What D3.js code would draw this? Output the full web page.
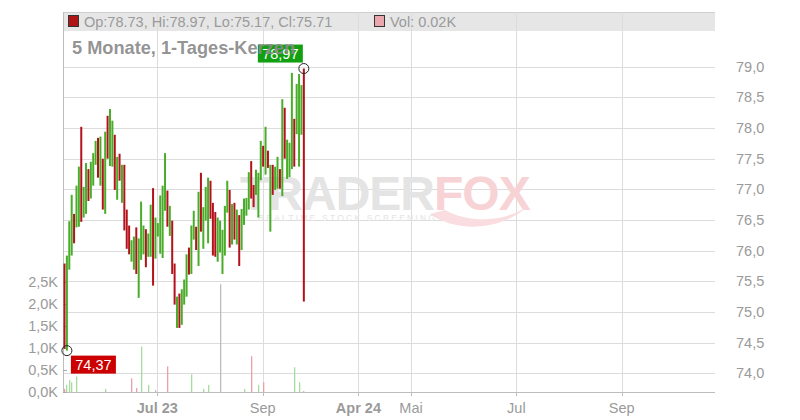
<!DOCTYPE html>
<html><head><meta charset="utf-8">
<script src="https://cdn.jsdelivr.net/npm/d3@7"></script>
<style>body{margin:0;background:#fff;} svg{display:block;font-family:"Liberation Sans",Arial,sans-serif;}</style>
</head><body><svg id="c" width="800" height="420"></svg>
<script>
// ---- data ----
const highs = [75.79,75.92,76.48,76.91,76.60,77.06,77.37,78.02,77.04,77.43,77.33,77.45,77.59,77.79,77.84,77.86,77.50,77.94,78.20,78.31,
  78.12,77.89,77.53,77.58,77.40,77.40,76.67,76.41,76.17,76.23,76.38,76.20,76.80,76.41,76.35,76.28,76.75,77.02,76.54,76.45,
  76.90,77.06,77.59,76.98,76.73,76.49,75.79,75.25,75.30,75.37,75.53,75.94,76.05,76.41,76.65,76.39,76.96,77.27,76.71,77.04,
  77.19,77.14,76.78,76.63,76.54,76.49,76.34,76.73,77.14,76.99,76.76,76.78,76.67,76.58,76.68,76.85,76.86,77.28,77.46,77.07,
  77.32,77.27,77.79,77.71,78.02,77.63,77.40,77.40,77.37,77.53,77.33,78.47,78.33,77.81,77.76,78.90,78.15,78.72,78.88,78.70,78.97];
const lows = [74.40,74.37,75.69,75.92,76.12,76.38,76.39,76.47,76.54,76.60,76.81,76.85,77.06,77.40,77.19,77.06,76.67,76.60,77.50,77.38,
  77.37,76.99,76.83,77.14,76.78,76.33,76.03,75.94,75.82,75.69,75.62,75.23,75.85,75.94,75.73,75.90,75.90,75.43,75.87,76.23,
  75.95,75.88,76.65,76.39,76.24,75.62,75.12,74.74,74.74,74.79,75.12,75.25,75.61,75.62,76.18,76.01,75.75,76.31,76.03,76.49,
  76.12,76.52,75.92,75.90,75.82,75.97,75.62,75.92,76.62,76.05,76.10,76.18,76.10,75.75,76.01,76.42,76.57,76.67,76.85,76.71,
  76.91,76.54,77.15,77.37,77.24,77.35,76.31,76.91,76.99,77.01,77.01,76.89,77.50,77.17,77.20,77.33,77.37,77.90,77.37,77.89,75.17];
const dirs = ["duuuduuduu","duuudududu","udududdduu","duuuduuduu","uuududdudu",
              "uuduududuu","uddduuuuud","ududuuuudd","uuudududuu","duduuuduuu","d"].join("");
const volumes = [[0,0.07,'d'],[1,0.16,'u'],[2,0.27,'u'],[3,0.22,'u'],[5,0.35,'u'],[17,0.07,'u'],[28,0.31,'d'],[30,0.09,'d'],
  [32,1.03,'u'],[35,0.16,'u'],[38,0.04,'n'],[43,0.58,'d'],[53,0.40,'u'],[58,0.07,'u'],[60,0.16,'u'],[65,2.44,'n'],
  [75,0.07,'u'],[78,0.81,'d'],[81,0.16,'u'],[83,0.22,'d'],[96,0.56,'u'],[98,0.22,'u'],[100,0.02,'d']];
const priceTicks = [74.0,74.5,75.0,75.5,76.0,76.5,77.0,77.5,78.0,78.5,79.0];
const volTicks = [0,0.5,1.0,1.5,2.0,2.5];
const xTickIdx = [39,83,123,145,189,233];
const xTickLabels = ["Jul 23","Sep","Apr 24","Mai","Jul","Sep"];
const xTickBold = [true,false,true,false,false,false];
const headerText = "Op:78.73, Hi:78.97, Lo:75.17, Cl:75.71";
const volText = "Vol: 0.02K";
const title = "5 Monate, 1-Tages-Kerzen";
const hiLabel = {idx:100, value:78.97, text:"78,97"};
const loLabel = {idx:1, value:74.37, text:"74,37"};

// ---- layout ----
const L = 63, R = 715, T = 12, B = 392;
const svg = d3.select("#c");
const x = d3.scaleLinear().domain([-0.42, 272]).range([L, R]);
const y = d3.scaleLinear().domain([74, 79]).range([373.3, 66.7]);
const yv = d3.scaleLinear().domain([0, 2.5]).range([B, 281.6]);
const fmt1 = v => d3.format(".1f")(v).replace(".", ",");

const gridC = "#dcdcdc", axisC = "#bdbdbd", textC = "#9a9a9a";
const upC = "#4aad2a", dnC = "#b4121a";
const vUp = "#a5dca0", vDn = "#e8a0aa", vN = "#bcbcbc";

// header bar
svg.append("rect").attr("x", L).attr("y", T).attr("width", R - L).attr("height", 19)
  .attr("fill", "#e6e6e6");
svg.append("line").attr("x1", L).attr("x2", R).attr("y1", T + 0.5).attr("y2", T + 0.5).attr("stroke", "#cfcfcf");

// horizontal price gridlines
svg.append("g").selectAll("line").data(priceTicks).join("line")
  .attr("x1", L).attr("x2", R).attr("y1", d => Math.round(y(d)) + 0.5).attr("y2", d => Math.round(y(d)) + 0.5)
  .attr("stroke", gridC);
// vertical gridlines
svg.append("g").selectAll("line").data(xTickIdx).join("line")
  .attr("x1", d => Math.round(x(d)) + 0.5).attr("x2", d => Math.round(x(d)) + 0.5)
  .attr("y1", T).attr("y2", B).attr("stroke", gridC);

// watermark
const wm = svg.append("g");
const wt = wm.append("text").attr("x", 240).attr("y", 210).attr("font-size", 48).attr("font-weight", "bold")
  .attr("letter-spacing", -1);
wt.append("tspan").attr("fill", "#e4e4e4").text("TRADER");
wt.append("tspan").attr("fill", "#f7d3d6").text("FOX");
wm.append("path").attr("d", "M430,214 C455,232 500,232 528,206 C505,222 470,224 445,210 Z").attr("fill", "#f9dde0");
wm.append("text").attr("x", 258).attr("y", 221).attr("font-size", 8.5).attr("letter-spacing", 2.2)
  .attr("fill", "#e4e4e4").text("REALTIME STOCK SCREENING");

// axes lines
svg.append("line").attr("x1", L + 0.5).attr("x2", L + 0.5).attr("y1", T).attr("y2", B).attr("stroke", axisC);
svg.append("line").attr("x1", L).attr("x2", R).attr("y1", B + 0.5).attr("y2", B + 0.5).attr("stroke", axisC);

// volume ticks (left)
svg.append("g").selectAll("line").data(volTicks).join("line")
  .attr("x1", L).attr("x2", L + 4).attr("y1", d => Math.round(yv(d)) + 0.5).attr("y2", d => Math.round(yv(d)) + 0.5)
  .attr("stroke", "#aaa");
svg.append("g").selectAll("text").data(volTicks).join("text")
  .attr("x", 58).attr("y", d => yv(d) + 5).attr("text-anchor", "end")
  .attr("font-size", 14.5).attr("fill", textC).text(d => fmt1(d) + "K");

// price labels (right)
svg.append("g").selectAll("text").data(priceTicks).join("text")
  .attr("x", 736).attr("y", d => y(d) + 5).attr("font-size", 14.5).attr("fill", textC).text(d => fmt1(d));

// x ticks & labels
svg.append("g").selectAll("line").data(xTickIdx).join("line")
  .attr("x1", d => Math.round(x(d)) + 0.5).attr("x2", d => Math.round(x(d)) + 0.5)
  .attr("y1", B).attr("y2", B + 4).attr("stroke", axisC);
svg.append("g").selectAll("text").data(xTickIdx).join("text")
  .attr("x", d => x(d)).attr("y", 413).attr("text-anchor", "middle")
  .attr("font-size", 14.5).attr("font-weight", (d, i) => xTickBold[i] ? "bold" : "normal")
  .attr("fill", textC).text((d, i) => xTickLabels[i]);

// volume bars
svg.append("g").selectAll("rect").data(volumes).join("rect")
  .attr("x", d => Math.round(x(d[0]))).attr("width", 1.3)
  .attr("y", d => yv(d[1])).attr("height", d => B - yv(d[1]))
  .attr("fill", d => d[2] === 'u' ? vUp : d[2] === 'd' ? vDn : vN);

// candles
svg.append("g").selectAll("rect").data(highs).join("rect")
  .attr("x", (d, i) => x(i) - 0.5).attr("width", 2)
  .attr("y", d => y(d)).attr("height", (d, i) => y(lows[i]) - y(d))
  .attr("fill", (d, i) => dirs[i] === 'u' ? upC : dnC);

// header content
svg.append("rect").attr("x", 68.5).attr("y", 15.5).attr("width", 10).attr("height", 11).attr("fill", "#b01515").attr("stroke", "#333");
svg.append("text").attr("x", 84).attr("y", 27).attr("font-size", 14.5).attr("fill", textC).text(headerText);
svg.append("rect").attr("x", 374.5).attr("y", 15.5).attr("width", 10).attr("height", 11).attr("fill", "#eaa7ae").attr("stroke", "#333");
svg.append("text").attr("x", 390).attr("y", 27).attr("font-size", 14.5).attr("fill", textC).text(volText);

// hi / lo markers
function marker(o, above, color) {
  const cx = x(o.idx) + 0.5, cy = y(o.value);
  const g = svg.append("g");
  const bw = 45, bh = 18;
  const bx = above ? cx - bw - 1 : cx + 4;
  const by = above ? cy - bh - 6 : cy + 5;
  g.append("rect").attr("x", bx).attr("y", by).attr("width", bw).attr("height", bh).attr("fill", color);
  g.append("text").attr("x", bx + bw / 2).attr("y", by + 14).attr("text-anchor", "middle")
    .attr("font-size", 14.5).attr("fill", "#fff").text(o.text);
  g.append("circle").attr("cx", cx).attr("cy", cy).attr("r", 5).attr("fill", "none").attr("stroke", "#222");
}
marker(hiLabel, true, "#12a012");
marker(loLabel, false, "#cc0000");

// title (drawn on top, as in the reference)
svg.append("text").attr("x", 72).attr("y", 54).attr("font-size", 18.2).attr("font-weight", "bold")
  .attr("fill", "#8a8a8a").attr("fill-opacity", 0.92).text(title);
</script></body></html>
